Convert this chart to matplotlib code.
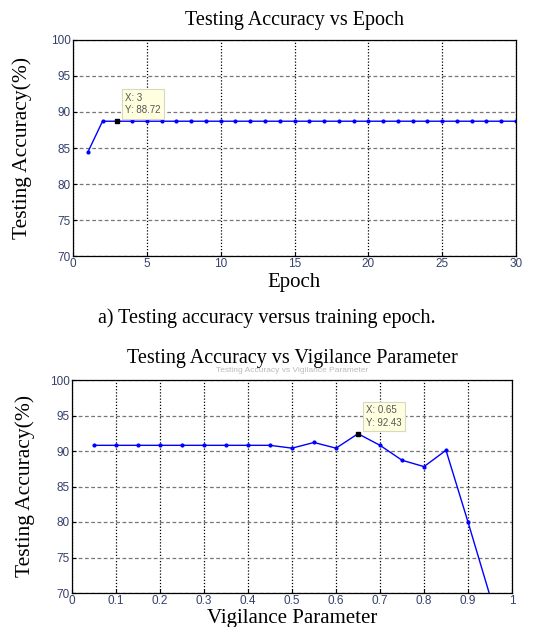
import matplotlib
matplotlib.use("Agg")
import matplotlib.pyplot as plt
import numpy as np

# top panel: accuracy per training epoch
epochs = list(range(1, 31))
epoch_acc = [84.4] + [88.72] * 29

# bottom panel: accuracy per vigilance value
vigilance = [0.05, 0.10, 0.15, 0.20, 0.25, 0.30, 0.35, 0.40, 0.45, 0.50,
             0.55, 0.60, 0.65, 0.70, 0.75, 0.80, 0.85, 0.90, 0.95]
vig_acc = [90.8, 90.8, 90.8, 90.8, 90.8, 90.8, 90.8, 90.8, 90.8, 90.4,
           91.2, 90.4, 92.43, 90.8, 88.7, 87.8, 90.1, 80.0, 69.6]

serif = "Liberation Serif"
sans = "Liberation Sans"
tick_col = "#35406a"

fig = plt.figure(figsize=(5.52, 6.27), dpi=100)


def style_axes(ax, xticks, xlabels):
    ax.set_ylim(70, 100)
    ax.set_yticks(np.arange(70, 101, 5))
    ax.set_xticks(xticks)
    ax.set_xticklabels(xlabels)
    ax.tick_params(direction="in", length=3, labelsize=8.5, colors="black",
                   labelcolor=tick_col, pad=1.5)
    for lab in ax.get_xticklabels() + ax.get_yticklabels():
        lab.set_fontfamily(sans)
    ax.yaxis.grid(True, linestyle=(0, (3, 2)), color="#777777", linewidth=0.9)
    ax.xaxis.grid(True, linestyle=(0, (1, 1.5)), color="black", linewidth=0.9)
    ax.set_axisbelow(True)
    for sp in ax.spines.values():
        sp.set_linewidth(0.9)


def data_tip(ax, x, y, txt):
    ax.plot([x], [y], marker="s", color="black", markersize=3.5, zorder=5,
            clip_on=False)
    ax.annotate(txt, xy=(x, y), xytext=(8, 6), textcoords="offset pixels",
                ha="left", va="bottom", fontsize=7, family=sans, color="#555555",
                linespacing=1.3,
                bbox=dict(boxstyle="square,pad=0.35", fc="#ffffe0",
                          ec="#d8d8c0", lw=0.8))


# ---------------- top chart
ax1 = fig.add_axes([73 / 552, 1 - 256 / 627, 443 / 552, 216 / 627])
ax1.plot(epochs, epoch_acc, color="#0000ff", linewidth=1.0, marker=".",
         markersize=4)
ax1.set_xlim(0, 30)
style_axes(ax1, np.arange(0, 31, 5), [str(v) for v in range(0, 31, 5)])
data_tip(ax1, 3, 88.72, "X: 3\nY: 88.72")

fig.text(0.5 * (73 + 516) / 552, 1 - 20 / 627, "Testing Accuracy vs Epoch",
         family=serif, fontsize=14.5, ha="center", va="center")
fig.text(0.5 * (73 + 516) / 552, 1 - 282 / 627, "Epoch",
         family=serif, fontsize=15, ha="center", va="center")
fig.text(22 / 552, 1 - 148 / 627, "Testing Accuracy(%)", family=serif,
         fontsize=15.5, rotation=90, ha="center", va="center")

fig.text(267 / 552, 1 - 318 / 627, "a) Testing accuracy versus training epoch.",
         family=serif, fontsize=14.5, ha="center", va="center")

# ---------------- bottom chart
ax2 = fig.add_axes([72 / 552, 1 - 593 / 627, 440 / 552, 213 / 627])
ax2.plot(vigilance, vig_acc, color="#0000ff", linewidth=1.0, marker=".",
         markersize=4)
ax2.set_xlim(0, 1)
vt = np.round(np.arange(0, 1.01, 0.1), 1)
style_axes(ax2, vt, ["0"] + [f"{v:.1f}" for v in vt[1:-1]] + ["1"])
data_tip(ax2, 0.65, 92.43, "X: 0.65\nY: 92.43")

fig.text(0.5 * (72 + 512) / 552, 1 - 358 / 627,
         "Testing Accuracy vs Vigilance Parameter",
         family=serif, fontsize=14.5, ha="center", va="center")
fig.text(0.5 * (72 + 512) / 552, 1 - 371 / 627,
         "Testing Accuracy vs Vigilance Parameter",
         family=sans, fontsize=6, color="#bbbbbb", ha="center", va="center")
fig.text(0.5 * (72 + 512) / 552, 1 - 619 / 627, "Vigilance Parameter",
         family=serif, fontsize=15, ha="center", va="center")
fig.text(25 / 552, 1 - 486 / 627, "Testing Accuracy(%)", family=serif,
         fontsize=15.5, rotation=90, ha="center", va="center")

fig.savefig("out.png", dpi=100, facecolor="white")
